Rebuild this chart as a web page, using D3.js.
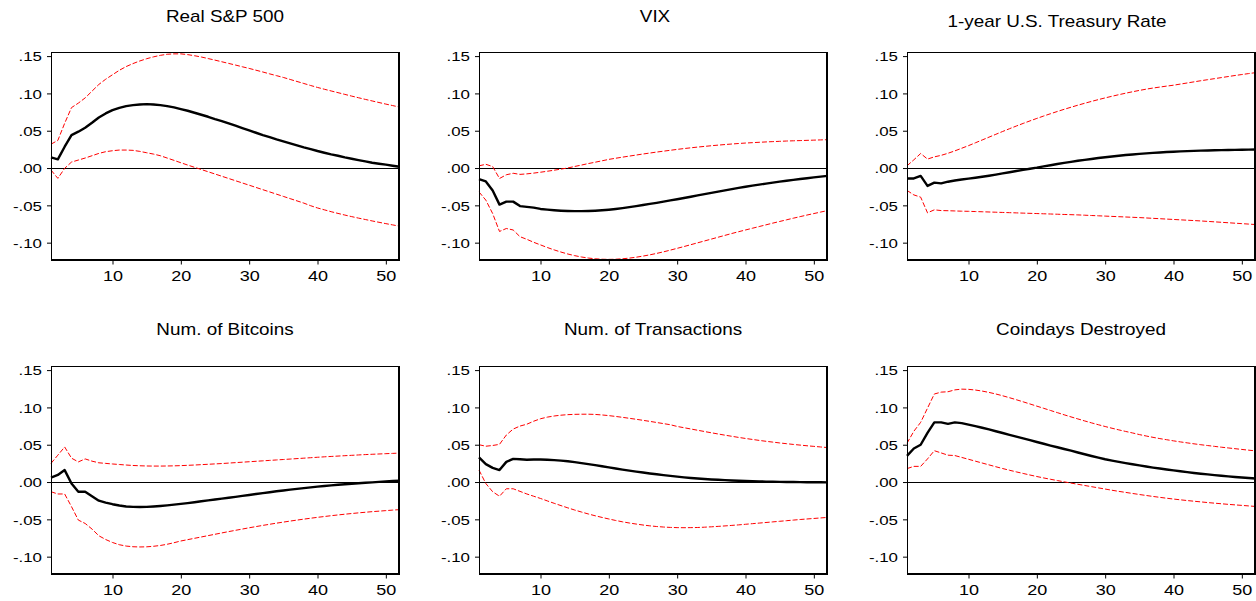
<!DOCTYPE html>
<html><head><meta charset="utf-8">
<script src="https://cdn.jsdelivr.net/npm/d3@7"></script>
<style>body{margin:0;background:#fff}svg{display:block}</style>
</head><body>
<svg id="chart" width="1256" height="601"></svg>
<script>
// ---------------- data ----------------
const periods = d3.range(1, 53);
const titles = ["Real S&P 500", "VIX", "1-year U.S. Treasury Rate",
                "Num. of Bitcoins", "Num. of Transactions", "Coindays Destroyed"];
const yTickValues = [0.15, 0.10, 0.05, 0, -0.05, -0.10];
const yTickLabels = [".15", ".10", ".05", ".00", "-.05", "-.10"];
const xTickValues = [10, 20, 30, 40, 50];

const sp500Mid = [.0143,.0116,.0286,.0442,.0487,.054,.0607,.0678,.0732,.0776,.0807,.083,.0843,.0852,.0857,.0852,.0843,.083,.0812,.079,.0768,.0741,.0714,.0687,.0656,.0629,.0598,.0567,.0536,.0504,.0473,.0442,.0415,.0384,.0357,.033,.0304,.0277,.0254,.0228,.0205,.0183,.0165,.0143,.0125,.0107,.0089,.0071,.0058,.0045,.0031,.0018];
const sp500Upper = [.032,.037,.060,.081,.087,.094,.103,.112,.119,.125,.131,.136,.140,.1435,.1465,.149,.151,.1525,.153,.153,.152,.1505,.1488,.1467,.1446,.1424,.1402,.138,.1357,.1335,.1311,.1287,.1262,.1238,.1214,.1187,.116,.1133,.1106,.108,.1056,.1033,.101,.0987,.0964,.0942,.092,.0899,.0878,.0857,.0837,.0817];
const sp500Lower = [-.0027,-.0138,-.0004,.008,.0107,.0134,.0165,.0196,.0219,.0232,.0241,.0241,.0237,.0223,.0205,.0187,.0165,.0134,.0103,.0071,.004,.001,-.002,-.005,-.008,-.011,-.014,-.017,-.020,-.023,-.026,-.029,-.032,-.035,-.038,-.041,-.044,-.047,-.0505,-.0535,-.056,-.0585,-.0608,-.063,-.0651,-.0671,-.069,-.0709,-.0727,-.0745,-.0762,-.0779];

const vixMid = [-.015,-.018,-.030,-.049,-.045,-.045,-.051,-.052,-.053,-.0548,-.0558,-.0566,-.0572,-.0576,-.0578,-.0578,-.0576,-.0572,-.0566,-.0558,-.0548,-.0537,-.0524,-.051,-.0496,-.0481,-.0466,-.045,-.0434,-.0418,-.0401,-.0384,-.0367,-.035,-.0333,-.0316,-.0299,-.0282,-.0266,-.025,-.0236,-.0222,-.0208,-.0195,-.0182,-.017,-.0158,-.0147,-.0136,-.0125,-.0115,-.0105];
const vixUpper = [.003,.005,.002,-.014,-.009,-.007,-.0085,-.0078,-.0068,-.0056,-.0043,-.0029,-.0014,.0001,.0021,.004,.006,.0078,.0097,.0116,.0131,.0146,.016,.0174,.0188,.0201,.0214,.0226,.0238,.025,.0261,.0271,.0281,.029,.0299,.0307,.0315,.0322,.0329,.0335,.034,.0345,.035,.0354,.0358,.0362,.0365,.0368,.0371,.0374,.0377,.038];
const vixLower = [-.032,-.043,-.061,-.085,-.081,-.083,-.092,-.0955,-.0995,-.103,-.1065,-.1097,-.1126,-.1152,-.1174,-.1192,-.1206,-.1216,-.1222,-.1224,-.1222,-.1216,-.1207,-.1195,-.118,-.1163,-.1144,-.1123,-.11,-.1076,-.1052,-.1027,-.1002,-.0977,-.0952,-.0927,-.0902,-.0877,-.0853,-.083,-.0807,-.0784,-.0761,-.0738,-.0716,-.0694,-.0672,-.0651,-.063,-.061,-.059,-.057];

const tsyMid = [-.014,-.014,-.0105,-.024,-.0195,-.0205,-.0183,-.0167,-.0153,-.0142,-.013,-.0117,-.0103,-.0088,-.0072,-.0056,-.004,-.0024,-.0009,.0005,.0022,.0038,.0054,.0069,.0083,.0097,.011,.0122,.0134,.0145,.0155,.0165,.0174,.0182,.019,.0197,.0203,.0209,.0214,.0219,.0223,.0227,.023,.0233,.0236,.0238,.024,.0242,.0244,.0246,.0247,.0248];
const tsyUpper = [.003,.011,.0195,.012,.015,.017,.0198,.023,.0265,.030,.0338,.0376,.0414,.0452,.049,.0527,.0563,.0598,.0632,.0665,.0697,.0728,.0758,.0787,.0815,.0842,.0868,.0893,.0917,.094,.0962,.0983,.1003,.1022,.104,.1057,.1072,.1085,.1098,.111,.1125,.114,.1155,.117,.1184,.1198,.1212,.1226,.124,.1253,.1266,.1278];
const tsyLower = [-.030,-.036,-.039,-.060,-.056,-.057,-.0572,-.0575,-.0578,-.058,-.0583,-.0586,-.0589,-.0592,-.0595,-.0598,-.0601,-.0604,-.0607,-.061,-.0613,-.0616,-.0619,-.0622,-.0625,-.0628,-.0632,-.0636,-.064,-.0644,-.0648,-.0652,-.0656,-.066,-.0664,-.0669,-.0674,-.0679,-.0684,-.0689,-.0694,-.0699,-.0704,-.0709,-.0715,-.0721,-.0727,-.0733,-.0739,-.0745,-.0751,-.0757];

const btcMid = [.006,.0095,.016,-.002,-.013,-.013,-.019,-.025,-.0275,-.0297,-.0315,-.0327,-.0333,-.0335,-.0333,-.0328,-.0321,-.0312,-.0303,-.0293,-.0282,-.027,-.0258,-.0246,-.0234,-.0222,-.021,-.0198,-.0186,-.0174,-.016,-.0148,-.0136,-.0124,-.0113,-.0102,-.0091,-.0081,-.0071,-.0062,-.0053,-.0045,-.0037,-.003,-.0023,-.0016,-.001,-.0004,.0002,.0008,.0013,.0018];
const btcUpper = [.025,.036,.047,.032,.027,.031,.028,.0258,.025,.0242,.0235,.0228,.0222,.0218,.0215,.0214,.0214,.0215,.0217,.022,.0224,.0228,.0233,.0238,.0243,.0248,.0254,.026,.0266,.0272,.0278,.0284,.029,.0296,.0302,.0308,.0314,.032,.0326,.0332,.0338,.0343,.0348,.0353,.0358,.0363,.0368,.0372,.0376,.038,.0384,.0388];
const btcLower = [-.013,-.016,-.016,-.033,-.051,-.0555,-.063,-.072,-.077,-.081,-.084,-.0858,-.0867,-.087,-.0868,-.0861,-.085,-.0834,-.0813,-.079,-.0772,-.0754,-.0736,-.0718,-.07,-.0682,-.0664,-.0647,-.063,-.0613,-.0597,-.0581,-.0566,-.0551,-.0537,-.0523,-.051,-.0497,-.0485,-.0473,-.0462,-.0451,-.0441,-.0431,-.0422,-.0413,-.0405,-.0397,-.039,-.0383,-.0376,-.037];

const txMid = [.033,.024,.019,.016,.027,.031,.0305,.0298,.0303,.0303,.0299,.0294,.0287,.0278,.0267,.0254,.024,.0226,.0211,.0196,.0181,.0167,.0153,.014,.0127,.0115,.0104,.0093,.0083,.0073,.0063,.0055,.0048,.0041,.0035,.003,.0025,.0021,.0017,.0014,.0011,.0008,.0006,.0004,.0002,.0001,0,-.0001,-.0002,-.0003,-.0003,-.0004];
const txUpper = [.050,.048,.049,.0505,.063,.071,.075,.0775,.0815,.0848,.087,.0885,.0896,.0903,.0907,.0909,.0909,.0906,.0899,.089,.0879,.0867,.0854,.0841,.0827,.0813,.0798,.0783,.0768,.0745,.0728,.0711,.0694,.0677,.066,.0644,.0628,.0613,.0598,.0584,.0571,.0558,.0546,.0535,.0524,.0514,.0504,.0495,.0486,.0478,.047,.0462];
const txLower = [.016,-.002,-.013,-.019,-.009,-.009,-.0125,-.016,-.019,-.022,-.0253,-.0285,-.0316,-.0346,-.0375,-.0402,-.0428,-.0452,-.0474,-.0495,-.0515,-.0533,-.0549,-.0563,-.0576,-.0587,-.0596,-.0603,-.0608,-.0611,-.0612,-.0611,-.0609,-.0605,-.06,-.0594,-.0588,-.0581,-.0574,-.0566,-.0558,-.055,-.0542,-.0534,-.0526,-.0518,-.051,-.0502,-.0495,-.0488,-.0481,-.0474];

const cdMid = [.035,.045,.050,.066,.080,.080,.078,.080,.079,.077,.075,.0728,.0705,.0681,.0657,.0633,.0609,.0585,.0561,.0537,.0513,.0489,.0466,.0443,.0421,.0396,.0372,.0349,.0327,.0305,.0287,.027,.0254,.0238,.0223,.0208,.0194,.0181,.0168,.0156,.0144,.0133,.0122,.0112,.0102,.0093,.0084,.0076,.0068,.0061,.0054,.0048];
const cdUpper = [.052,.068,.080,.099,.118,.1205,.121,.1235,.1245,.1242,.1233,.1219,.1201,.118,.1156,.113,.1103,.1075,.1046,.1017,.0988,.0959,.093,.0901,.0873,.0846,.0819,.0793,.0768,.0744,.0721,.0699,.0678,.0658,.0636,.0617,.0599,.0582,.0567,.0552,.0538,.0525,.0512,.05,.0489,.0478,.0467,.0457,.0447,.0437,.0427,.0418];
const cdLower = [.018,.021,.021,.031,.042,.039,.036,.0355,.033,.0305,.028,.0255,.023,.0205,.0181,.0158,.0136,.0115,.0094,.0074,.0055,.0037,.002,.0003,-.0014,-.003,-.0046,-.0062,-.0078,-.0094,-.011,-.0125,-.0139,-.0153,-.0167,-.018,-.0193,-.0205,-.0217,-.0228,-.0238,-.0248,-.0257,-.0266,-.0275,-.0283,-.0291,-.0299,-.0306,-.0313,-.032,-.0327];

const seriesMid = [sp500Mid, vixMid, tsyMid, btcMid, txMid, cdMid];
const seriesUpper = [sp500Upper, vixUpper, tsyUpper, btcUpper, txUpper, cdUpper];
const seriesLower = [sp500Lower, vixLower, tsyLower, btcLower, txLower, cdLower];

// ---------------- layout / style ----------------
const panelLayout = [
  {left: 51,  top: 52,  titleX: 225,  titleY: 22},
  {left: 479, top: 52,  titleX: 655,  titleY: 22},
  {left: 907, top: 52,  titleX: 1057, titleY: 27},
  {left: 51,  top: 366, titleX: 225,  titleY: 335},
  {left: 479, top: 366, titleX: 653,  titleY: 335},
  {left: 907, top: 366, titleX: 1081, titleY: 335}
];
const W = 348.5, H = 208.5;
const FONT = "'Liberation Sans', Arial, Helvetica, sans-serif";

const svg = d3.select("#chart");
svg.append("rect").attr("width", 1256).attr("height", 601).attr("fill", "#fff");

const x = d3.scaleLinear().domain([1, 52]).range([0, W]);
const y = d3.scaleLinear().domain([-0.1239, 0.1555]).range([H, 0]);
const line = d3.line().x((d, i) => x(periods[i])).y(d => y(d));

panelLayout.forEach((p, k) => {
  const g = svg.append("g").attr("transform", `translate(${p.left},${p.top})`);

  // zero line (snapped to the pixel grid)
  const y0 = Math.round(y(0)) + 0.5;
  g.append("line").attr("x1", 0).attr("x2", W).attr("y1", y0).attr("y2", y0)
    .attr("stroke", "#000").attr("stroke-width", 1).attr("shape-rendering", "crispEdges");

  // confidence bands
  [seriesUpper[k], seriesLower[k]].forEach(s => {
    g.append("path").datum(s).attr("d", line).attr("fill", "none")
      .attr("stroke", "#ff0000").attr("stroke-width", 1)
      .attr("stroke-dasharray", "5,2");
  });

  // impulse response
  g.append("path").datum(seriesMid[k]).attr("d", line).attr("fill", "none")
    .attr("stroke", "#000").attr("stroke-width", 2.4).attr("stroke-linejoin", "round");

  // frame
  g.append("rect").attr("x", 0.5).attr("y", 0.5).attr("width", W - 1).attr("height", H - 1)
    .attr("fill", "none").attr("stroke", "#000").attr("stroke-width", 1.2)
    .attr("shape-rendering", "crispEdges");

  // y axis
  const ya = g.append("g").call(d3.axisLeft(y).tickValues(yTickValues).tickSize(4)
      .tickFormat((d, i) => yTickLabels[i]));
  ya.select(".domain").remove();
  ya.selectAll("line").attr("stroke", "#000");
  ya.selectAll("text").attr("x", 0).attr("dy", "0.36em")
    .attr("transform", "translate(-9,0) scale(1.3,1)")
    .attr("font-family", FONT).attr("font-size", 13).attr("fill", "#000");

  // x axis
  const xa = g.append("g").attr("transform", `translate(0,${H})`)
    .call(d3.axisBottom(x).tickValues(xTickValues).tickSize(4).tickFormat(d3.format("d")));
  xa.select(".domain").remove();
  xa.selectAll("line").attr("stroke", "#000");
  xa.selectAll("text").attr("y", 0).attr("dy", 0)
    .attr("transform", "translate(0,20) scale(1.2,1)")
    .attr("font-family", FONT).attr("font-size", 15).attr("fill", "#000");

  // title
  svg.append("text").attr("transform", `translate(${p.titleX},${p.titleY}) scale(1.18,1)`)
    .attr("text-anchor", "middle").attr("font-family", FONT).attr("font-size", 16)
    .attr("fill", "#000").text(titles[k]);
});
</script>
</body></html>
